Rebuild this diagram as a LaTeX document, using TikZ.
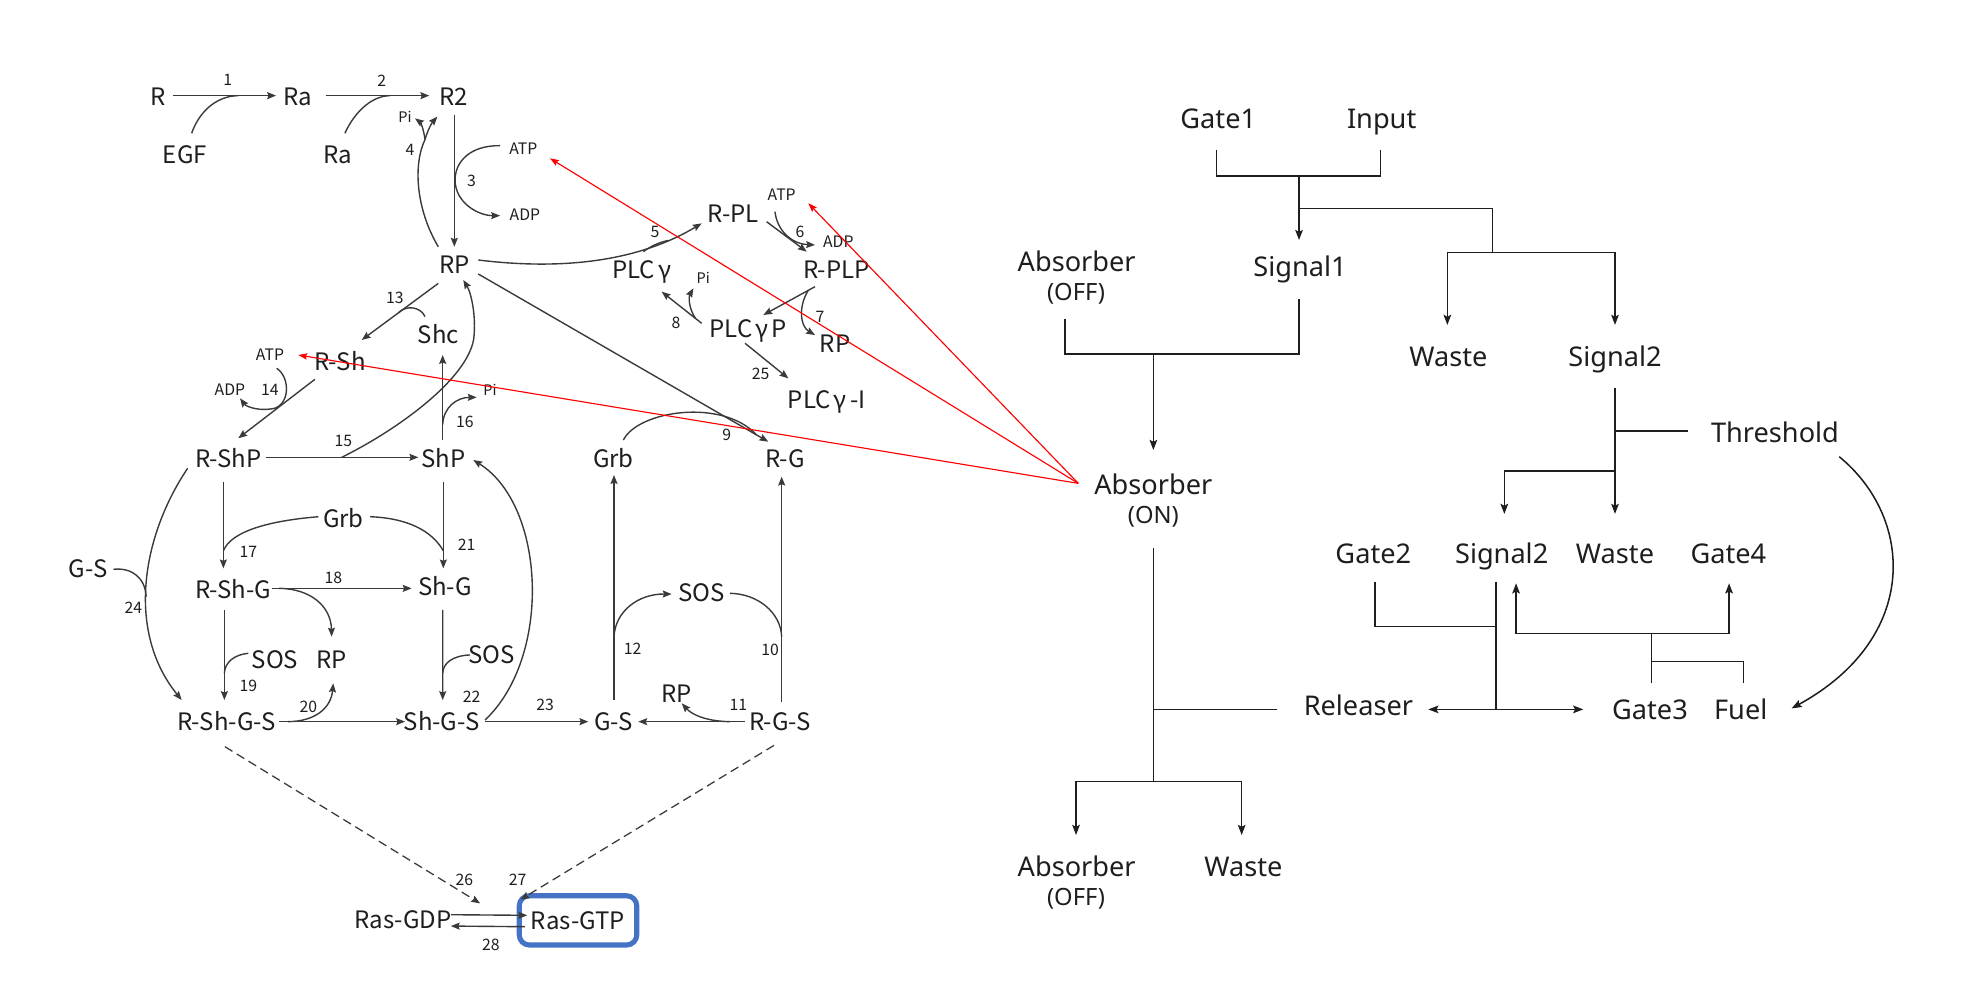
\documentclass[tikz,border=0pt]{standalone}
\usepackage{fontspec}
\usetikzlibrary{arrows.meta,calc}
\newfontfamily\lfont{Noto Sans CJK JP}
\newfontfamily\rfont{Noto Sans}
\definecolor{ln}{HTML}{3A3A3A}
\definecolor{txt}{HTML}{1E1E1E}
\definecolor{boxblue}{HTML}{4472C4}
\definecolor{redln}{HTML}{FF0000}
\tikzset{
  L/.style={font=\lfont\fontsize{19}{20}\selectfont,text=txt,inner sep=0pt,text height=13.9pt,text depth=0pt},
  Sm/.style={font=\lfont\fontsize{12.5}{13}\selectfont,text=txt,inner sep=0pt,text height=9pt,text depth=0pt},
  Pis/.style={font=\lfont\fontsize{11.5}{12}\selectfont,text=txt,inner sep=0pt,text height=8.4pt,text depth=0pt},
  Rt/.style={font=\rfont\fontsize{21.5}{22}\selectfont,text=txt,inner sep=0pt,text height=15.4pt,text depth=0pt},
  Rs/.style={font=\rfont\fontsize{18.8}{19}\selectfont,text=txt,inner sep=0pt,text height=13.4pt,text depth=0pt},
  ar/.style={draw=ln,line width=1.1pt,-{Stealth[length=7pt,width=5.5pt,inset=1pt]}},
  pl/.style={draw=ln,line width=1.1pt},
  rar/.style={draw=txt,line width=1.2pt,-{Stealth[length=8pt,width=6pt,inset=1.5pt]}},
  rpl/.style={draw=txt,line width=1.2pt},
  redarr/.style={draw=redln,line width=0.9pt,-{Stealth[length=7pt,width=5pt,inset=1pt]}},
  dsh/.style={draw=ln,line width=1pt,dash pattern=on 7pt off 4pt,-{Stealth[length=7pt,width=5.5pt,inset=1pt]}},
  gtp/.style={draw=boxblue,line width=4pt,rounded corners=8pt,minimum width=93pt,minimum height=39pt}
}
\begin{document}
\begin{tikzpicture}[x=1pt,y=-1pt]
\fill[white] (0,0) rectangle (1568,783);
\useasboundingbox (0,0) rectangle (1568,783);

% ---------------- left: main species ----------------
\node[L] (R) at (124.8,76.5) {R};
\node[L] (Ra1) at (235.6,76.5) {Ra};
\node[L] (R2) at (359.3,76.5) {R2};
\node[L] (EGF) at (146.4,122.7) {EGF};
\node[L] (Ra2) at (267.3,122.7) {Ra};
\node[L] (RP1) at (359.6,209.8) {RP};
\node[L] (RPL) at (580.4,168.9) {R-PL};
\node[L] (RPLP) at (662.2,213.7) {R-PLP};
\node[L] (PLCg) at (507.9,213.7) {PLC\kern2.5ptγ};
\node[L] (PLCgP) at (592.3,259.9) {PLC\kern2.5ptγ\kern2.5ptP};
\node[L] (RP2) at (660.9,271.7) {RP};
\node[L] (PLCgI) at (654.3,316.6) {PLC\kern2.5ptγ\kern2.5pt-I};
\node[L] (Shc) at (346.9,265.2) {Shc};
\node[L] (RSh) at (269.1,286.3) {R-Sh};
\node[L] (RShP) at (180.7,362.8) {R-ShP};
\node[L] (ShP) at (350.9,362.8) {ShP};
\node[L] (Grb2) at (485.5,362.8) {Grb};
\node[L] (RG) at (621.3,362.8) {R-G};
\node[L] (Grb1) at (271.8,410.3) {Grb};
\node[L] (GS1) at (69.9,449.9) {G-S};
\node[L] (RShG) at (184.7,467) {R-Sh-G};
\node[L] (ShG) at (352.2,464.4) {Sh-G};
\node[L] (SOS1) at (217.7,521.9) {SOS};
\node[L] (RP3) at (262.5,522.4) {RP};
\node[L] (SOS2) at (389.2,518.4) {SOS};
\node[L] (SOS3) at (555.4,469.1) {SOS};
\node[L] (RP4) at (535.6,548.8) {RP};
\node[L] (RShGS) at (179.4,571.2) {R-Sh-G-S};
\node[L] (ShGS) at (349.6,571.2) {Sh-G-S};
\node[L] (GS2) at (485.5,571.2) {G-S};
\node[L] (RGS) at (617.4,571.2) {R-G-S};
\node[L] (RasGDP) at (319,728) {Ras-GDP};
\node[L,gtp] (RasGTP) at (457.5,728.5) {Ras-GTP};

% small species
\node[Sm] (ATP1) at (414.2,117.9) {ATP};
\node[Sm] (ADP1) at (415.5,170.2) {ADP};
\node[Pis] (Pi1) at (320.6,93.1) {Pi};
\node[Sm] (ATP2) at (618.7,154.3) {ATP};
\node[Sm] (ADP2) at (663.5,191.3) {ADP};
\node[Pis] (Pi2) at (556.7,220.3) {Pi};
\node[Sm] (ATP3) at (213.7,281) {ATP};
\node[Sm] (ADP3) at (182,308.7) {ADP};
\node[Pis] (Pi3) at (387.8,308.7) {Pi};

% reaction numbers
\node[Sm] (n1) at (180.2,63.3) {1};
\node[Sm] (n2) at (302.1,63.9) {2};
\node[Sm] (n3) at (373.3,143.3) {3};
\node[Sm] (n4) at (324.5,118.2) {4};
\node[Sm] (n5) at (518.4,183.4) {5};
\node[Sm] (n6) at (633.2,183.4) {6};
\node[Sm] (n7) at (649,250.6) {7};
\node[Sm] (n8) at (535,255.9) {8};
\node[Sm] (n25) at (602.1,295.5) {25};
\node[Sm] (n9) at (575.2,344.3) {9};
\node[Sm] (n13) at (312.6,236.1) {13};
\node[Sm] (n14) at (213.7,308.7) {14};
\node[Sm] (n15) at (271.8,348.8) {15};
\node[Sm] (n16) at (368,333.8) {16};
\node[Sm] (n17) at (196.6,436.6) {17};
\node[Sm] (n21) at (369.4,431.4) {21};
\node[Sm] (n18) at (263.8,457.7) {18};
\node[Sm] (n24) at (105.5,480.7) {24};
\node[Sm] (n19) at (196.6,543) {19};
\node[Sm] (n20) at (244,559.3) {20};
\node[Sm] (n22) at (373.3,551.4) {22};
\node[Sm] (n23) at (431.4,558) {23};
\node[Sm] (n12) at (500.8,513.2) {12};
\node[Sm] (n10) at (609.5,514) {10};
\node[Sm] (n11) at (584.4,558) {11};
\node[Sm] (n26) at (367.5,696) {26};
\node[Sm] (n27) at (409.7,696) {27};
\node[Sm] (n28) at (388.5,748) {28};

% junction points
\coordinate (j1) at (188.6,75.7);
\coordinate (j2) at (308.7,75.7);
\coordinate (j3) at (360.2,142.5);
\coordinate (j4) at (336.4,110.5);
\coordinate (j5) at (529,190.3);
\coordinate (j7) at (639.8,229.8);
\coordinate (j8) at (550.6,252.2);
\coordinate (j9) at (598.9,344.3);
\coordinate (j13) at (315.3,247.6);
\coordinate (j16) at (350.4,336);
\coordinate (j15) at (270.4,362);
\coordinate (j17) at (176.8,436);
\coordinate (j21) at (350.9,436);
\coordinate (j18) at (221,465.7);
\coordinate (j24) at (115.7,472.2);
\coordinate (j19) at (177.6,533);
\coordinate (j20) at (228,571.2);
\coordinate (j22) at (350.4,533);
\coordinate (j12) at (486,503.9);
\coordinate (j10) at (618.7,504);
\coordinate (j11) at (577.8,571.2);

% ---------------- left: reactions ----------------
% 1, 2
\draw[ar] ($(R)+(11.9,-0.8)$) -- ($(Ra1)+(-17.1,-0.8)$);
\draw[pl] ($(EGF)+(5.3,-17.2)$) .. controls (157,90) and (170,76) .. (j1);
\draw[ar] ($(Ra1)+(22.4,-0.8)$) -- ($(R2)+(-19.5,-0.8)$);
\draw[pl] ($(Ra2)+(5.7,-17.2)$) .. controls (279,92) and (292,76) .. (j2);
% 3
\draw[ar] ($(R2)+(0.3,14.5)$) -- ($(RP1)+(0,-14.5)$);
\draw[ar] ($(ATP1)+(-18.4,-2.6)$) .. controls (372,115) and (360.2,128) .. (j3)
  .. controls (360.2,160) and (378,170.7) .. ($(ADP1)+(-19.7,0.5)$);
% 4
\draw[ar] ($(RP1)+(-12.7,-14.5)$) .. controls (329,165) and (327,130) .. (j4)
  .. controls (338.5,103) and (342,97) .. ($(R2)+(-13.1,15.8)$);
\draw[ar] (j4) .. controls (335.5,103) and (333,97) .. ($(Pi1)+(7.9,0.6)$);
% 5
\draw[ar] ($(RP1)+(19,-4)$) .. controls (445,214) and (505,207) .. ($(RPL)+(-25,7.9)$);
\draw[pl] ($(PLCg)+(1.3,-14.5)$) .. controls (515,195) and (521,192) .. (j5);
% 6
\draw[ar] ($(RPL)+(26.4,6.6)$) -- ($(RPLP)+(-23.7,-14.5)$);
\draw[ar] ($(ATP2)+(-5.3,13.2)$) .. controls (615,182) and (626,193) .. ($(ADP2)+(-18.4,2.6)$);
% 7
\draw[ar] ($(RPLP)+(-17.1,13.2)$) -- ($(PLCgP)+(11.9,-10.6)$);
\draw[ar] (j7) .. controls (632,242) and (633,258) .. ($(RP2)+(-15.8,-6.5)$);
% 8
\draw[ar] ($(PLCgP)+(-36.9,-4)$) -- ($(PLCg)+(15.8,17.2)$);
\draw[ar] (j8) .. controls (545,244) and (545,235) .. ($(Pi2)+(-7.9,7.9)$);
% 25
\draw[ar] ($(PLCgP)+(-2.6,11.8)$) -- ($(PLCgI)+(-30.3,-17.1)$);
% RP -> R-G, 9
\draw[ar] ($(RP1)+(19,7.1)$) -- ($(RG)+(-13.2,-13.2)$);
\draw[pl] ($(Grb2)+(7.9,-14.5)$) .. controls (505,325) and (572,315) .. (j9);
% 13
\draw[ar] ($(RP1)+(-12.7,14.5)$) -- ($(RSh)+(17.2,-17.2)$);
\draw[pl] ($(Shc)+(-10.5,-14.6)$) .. controls (333,243) and (322,241) .. (j13);
% ShP -> Shc, 16
\draw[ar] ($(ShP)+(-0.5,-14.5)$) -- ($(Shc)+(3.5,15.8)$);
\draw[ar] (j16) .. controls (351,322) and (362,314.5) .. ($(Pi3)+(-10.5,5.8)$);
% 15
\draw[ar] ($(RShP)+(29.8,-0.8)$) -- ($(ShP)+(-19.8,-0.8)$);
\draw[ar] (j15) .. controls (315,340) and (370,300) .. (375,268)
  .. controls (377,250) and (373,232) .. ($(RP1)+(7.1,11.8)$);
% 14
\draw[ar] ($(RSh)+(-19.8,13.9)$) -- ($(RShP)+(7.9,-15.9)$);
\draw[ar] ($(ATP3)+(5.3,10.5)$) .. controls (229,298) and (230,318) .. (218,323)
  .. controls (206,326) and (195,322) .. ($(ADP3)+(8,6.6)$);
% 17, 21
\draw[ar] ($(RShP)+(-3.9,18.4)$) -- ($(RShG)+(-7.9,-17.1)$);
\draw[pl] ($(Grb1)+(-19.8,-1.3)$) .. controls (215,412) and (183,420) .. (j17);
\draw[ar] ($(ShP)+(0,18.4)$) -- ($(ShG)+(-1.3,-14.5)$);
\draw[pl] ($(Grb1)+(21.1,-1.3)$) .. controls (322,410) and (342,420) .. (j21);
% 18
\draw[ar] ($(RShG)+(30.3,-1.3)$) -- ($(ShG)+(-26.4,1.3)$);
\draw[ar] (j18) .. controls (246,466) and (262,480) .. ($(RP3)+(0,-18.5)$);
% 24
\draw[ar] ($(RShP)+(-32.2,7.9)$) .. controls (112,425) and (100,500) .. ($(RShGS)+(-35.6,-17.1)$);
\draw[pl] ($(GS1)+(19.8,0.7)$) .. controls (105,449) and (115,458) .. (j24);
% 19
\draw[ar] ($(RShG)+(-7.1,15.8)$) -- ($(RShGS)+(-1.8,-17.1)$);
\draw[pl] ($(SOS1)+(-21.1,-4.8)$) .. controls (186,518) and (177.8,524) .. (j19);
% 20
\draw[ar] ($(RShGS)+(41.7,0)$) -- ($(ShGS)+(-29,0)$);
\draw[ar] (j20) .. controls (250,571) and (262,560) .. ($(RP3)+(1.3,18.5)$);
% 22
\draw[ar] ($(ShG)+(-1.8,18.4)$) -- ($(ShGS)+(0.8,-17.1)$);
\draw[pl] ($(SOS2)+(-17.2,0)$) .. controls (358,519) and (350.6,525) .. (j22);
% 23
\draw[ar] ($(ShGS)+(34.3,0)$) -- ($(GS2)+(-19.8,0)$);
\draw[ar] ($(ShGS)+(34.3,-1.3)$) .. controls (437,520) and (432,400) .. ($(ShP)+(23.7,1.3)$);
% G-S -> Grb, 12
\draw[ar] ($(GS2)+(0.5,-17.2)$) -- ($(Grb2)+(0.5,13.2)$);
\draw[ar] (j12) .. controls (487,484) and (505,470) .. ($(SOS3)+(-23.8,1.1)$);
% 10
\draw[ar] ($(RGS)+(1.3,-15.8)$) -- ($(RG)+(-2.6,14.5)$);
\draw[pl] ($(SOS3)+(22.4,0.5)$) .. controls (600,470) and (618,485) .. (j10);
% 11
\draw[ar] ($(RGS)+(-27.7,0)$) -- ($(GS2)+(19.7,0)$);
\draw[ar] (j11) .. controls (560,571) and (548,566) .. ($(RP4)+(4,7.9)$);
% 26, 27, 28
\draw[dsh] ($(RShGS)+(-1.4,19.8)$) -- ($(RasGDP)+(61,-13)$);
\draw[dsh] ($(RGS)+(-4.8,18.8)$) -- ($(RasGTP)+(-45.5,-16.5)$);
\draw[ar] ($(RasGDP)+(37.8,-4)$) -- ($(RasGTP)+(-40.2,-4)$);
\draw[ar] ($(RasGTP)+(-42,5)$) -- ($(RasGDP)+(37.8,5)$);

% ---------------- right: strand displacement ----------------
\node[Rt] (Gate1) at (964.3,93.7) {Gate1};
\node[Rt] (Input) at (1093.6,93.7) {Input};
\node[Rt] (Sig1) at (1029,211.1) {Signal1};
\node[Rt] (AbsOff1) at (852.2,207.1) {Absorber};
\node[Rs] (AbsOff1s) at (851.7,230.9) {(OFF)};
\node[Rt] (Waste1) at (1146.4,282.3) {Waste};
\node[Rt] (Sig2a) at (1278.3,282.3) {Signal2};
\node[Rt] (Thr) at (1404.9,342.5) {Threshold};
\node[Rt] (AbsOn) at (912.9,383.9) {Absorber};
\node[Rs] (AbsOns) at (912.9,407.6) {(ON)};
\node[Rt] (Gate2) at (1087,438) {Gate2};
\node[Rt] (Sig2b) at (1188.6,438) {Signal2};
\node[Rt] (Waste2) at (1278.3,438) {Waste};
\node[Rt] (Gate4) at (1368,438) {Gate4};
\node[Rt] (Rel) at (1075.2,558.5) {Releaser};
\node[Rt] (Gate3) at (1306,561.5) {Gate3};
\node[Rt] (Fuel) at (1377.8,561.5) {Fuel};
\node[Rt] (AbsOff2) at (852.2,686) {Absorber};
\node[Rs] (AbsOff2s) at (851.7,709.7) {(OFF)};
\node[Rt] (Waste3) at (984.1,686) {Waste};

\coordinate (k1) at (1028.2,139.3);
\coordinate (k2) at (1028.2,164.9);
\coordinate (k3) at (1181.2,200);
\coordinate (k4) at (912.9,280.2);
\coordinate (k5) at (912.9,561.5);
\coordinate (k6) at (912.9,618.7);
\coordinate (k7) at (1278.3,341.2);
\coordinate (k8) at (1278.3,372.8);
\coordinate (k9) at (1184.1,496);
\coordinate (k10) at (1184.1,561.5);
\coordinate (k11) at (1307.3,501.3);
\coordinate (k12) at (1307.3,523.7);

\draw[rpl] ($(Gate1)+(-1.3,25)$) |- (k1) -| ($(Input)+(-0.8,25)$);
\draw[rar] (k1) -- ($(Sig1)+(-0.8,-21.1)$);
\draw[rpl] (k2) -| (k3);
\draw[rar] (k3) -| ($(Waste1)+(-0.8,-25.1)$);
\draw[rar] (k3) -| ($(Sig2a)+(0,-25.1)$);
\draw[rpl] ($(AbsOff1)+(-9.2,45.7)$) |- (k4) -| ($(Sig1)+(-0.8,25.8)$);
\draw[rar] (k4) -- ($(AbsOn)+(0,-27.7)$);
\draw[rpl] ($(AbsOn)+(0,50.1)$) -- (k6);
\draw[rpl] (k5) -- ($(Rel)+(-64.2,3)$);
\draw[rar] (k6) -| ($(AbsOff2)+(-0.5,-25.1)$);
\draw[rar] (k6) -| ($(Waste3)+(-1.3,-25.1)$);
\draw[rar] ($(Sig2a)+(0,25.1)$) -- ($(Waste2)+(0,-31.2)$);
\draw[rpl] (k7) -- ($(Thr)+(-68.5,-1.3)$);
\draw[rar] (k8) -| ($(Sig2b)+(2.1,-31.2)$);
\draw[rpl] ($(Gate2)+(1.3,22.4)$) |- (k9);
\draw[rpl] ($(Sig2b)+(-4.5,22.4)$) -- (k10);
\draw[rar] (k10) -- ($(Rel)+(55.3,3)$);
\draw[rar] (k10) -- ($(Gate3)+(-52.8,0)$);
\draw[rar] (k11) -| ($(Sig2b)+(11.4,23.7)$);
\draw[rar] (k11) -| ($(Gate4)+(0.6,23.7)$);
\draw[rpl] (k11) -- ($(Gate3)+(1.3,-20.6)$);
\draw[rpl] (k12) -| ($(Fuel)+(2.1,-20.6)$);
\draw[rar] ($(Thr)+(50.9,19)$) .. controls (1515,410) and (1520,505) .. ($(Fuel)+(40.3,-0.8)$);

% ---------------- red links ----------------
\coordinate (rsrc) at ($(AbsOn)+(-59.4,-1.3)$);
\draw[redarr] (rsrc) -- ($(ATP1)+(21.1,7.4)$);
\draw[redarr] (rsrc) -- ($(ATP2)+(21.1,6.6)$);
\draw[redarr] (rsrc) -- ($(ATP3)+(22.4,0)$);
\end{tikzpicture}
\end{document}
